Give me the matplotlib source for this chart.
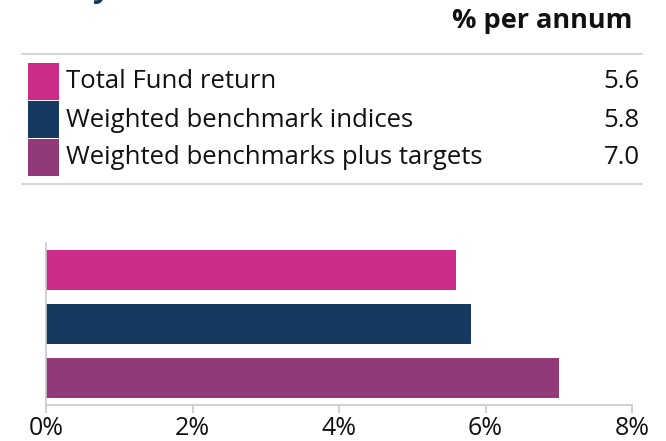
import matplotlib
matplotlib.use('Agg')
import matplotlib.pyplot as plt
from matplotlib.patches import Rectangle
from matplotlib.lines import Line2D
from matplotlib.ticker import FuncFormatter

labels = ['Total Fund return', 'Weighted benchmark indices', 'Weighted benchmarks plus targets']
values = [5.6, 5.8, 7.0]
colors = ['#CC2C87', '#163A5F', '#923979']
xticks = [0, 2, 4, 6, 8]

W, H = 666, 441
plt.rcParams['font.family'] = ['Open Sans', 'DejaVu Sans']

fig = plt.figure(figsize=(W / 100, H / 100), dpi=100)


def fx(px):
    return px / W


def fy(py):
    return 1 - py / H


# cut-off heading at the very top
fig.text(fx(92), fy(-3), 'y', fontsize=22, fontweight='bold', color='#163A5F',
         ha='left', va='baseline')

fig.text(fx(632), fy(21), '% per annum', fontsize=19.5, fontweight='bold',
         color='#111111', ha='right', va='center')

for yy in (54, 184):
    fig.add_artist(Line2D([fx(22), fx(642)], [fy(yy), fy(yy)], color='#d0d0d0', lw=1.2))

row_top = 63
row_h = 38
for i, (lab, val, col) in enumerate(zip(labels, values, colors)):
    top = row_top + i * row_h
    fig.add_artist(Rectangle((fx(28), fy(top + row_h - 1)), fx(31), (row_h - 1) / H,
                             color=col, lw=0))
    cy = top + row_h / 2
    fig.text(fx(66), fy(cy), lab, fontsize=18.5, color='#111111', ha='left', va='center')
    fig.text(fx(640), fy(cy), f'{val:.1f}', fontsize=18.5, color='#111111',
             ha='right', va='center')

ax = fig.add_axes([fx(46), fy(405), fx(632) - fx(46), fy(243) - fy(405)])
ypos = [2, 1, 0]
ax.barh(ypos, values, height=0.73, color=colors)
ax.set_xlim(0, 8)
ax.set_ylim(-0.5, 2.5)
ax.set_xticks(xticks)
ax.xaxis.set_major_formatter(FuncFormatter(lambda v, p: f'{v:.0f}%'))
ax.set_yticks([])
for s in ('top', 'right'):
    ax.spines[s].set_visible(False)
for s in ('left', 'bottom'):
    ax.spines[s].set_color('#c8c8c8')
    ax.spines[s].set_linewidth(1.2)
ax.tick_params(axis='x', colors='#c8c8c8', length=6, width=1.2, labelsize=18,
               labelcolor='#111111', pad=2)

fig.savefig('out.png', dpi=100)
